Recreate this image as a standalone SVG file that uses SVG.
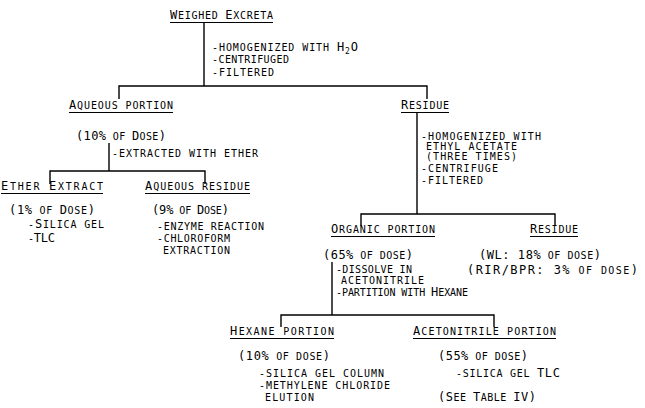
<svg xmlns="http://www.w3.org/2000/svg" width="645" height="408" viewBox="0 0 645 408">
<style>
text{font-family:"DejaVu Sans Mono","Liberation Mono",monospace;font-size:10px;fill:#000}
.b{font-size:12px}
.s{font-size:8px}
line,path{stroke:#000;stroke-width:1.4;fill:none}
.ul{stroke-width:1}
</style>
<rect width="645" height="408" fill="#fff"/>
<g id="connectors">
<path d="M204,23V86M119,99V86H427V99"/>
<path d="M109,143V171M50,184V171H205V184"/>
<path d="M417,112V214M361,226V214H555V226"/>
<path d="M332,262V315M281,327V315H494V327"/>
</g>
<g id="weighed-excreta">
<text x="170" y="19" textLength="103" lengthAdjust="spacing"><tspan class="b">W</tspan>EIGHED <tspan class="b">E</tspan>XCRETA</text>
<line class="ul" x1="170" y1="22.5" x2="273" y2="22.5"/>
</g>
<g id="step1">
<text x="212" y="51" textLength="146" lengthAdjust="spacing">-HOMOGENIZED WITH <tspan class="b">H</tspan><tspan class="s" dy="3">2</tspan><tspan class="b" dy="-3">O</tspan></text>
<text x="212" y="63" textLength="77" lengthAdjust="spacing">-CENTRIFUGED</text>
<text x="212" y="76" textLength="62" lengthAdjust="spacing">-FILTERED</text>
</g>
<g id="aqueous-portion">
<text x="69" y="109" textLength="104" lengthAdjust="spacing"><tspan class="b">A</tspan>QUEOUS PORTION</text>
<line class="ul" x1="69" y1="112.5" x2="173" y2="112.5"/>
<text x="76" y="140" textLength="90" lengthAdjust="spacing"><tspan class="b">(10%</tspan> OF <tspan class="b">D</tspan>OSE<tspan class="b">)</tspan></text>
<text x="112" y="157" textLength="146" lengthAdjust="spacing">-EXTRACTED WITH ETHER</text>
</g>
<g id="ether-extract">
<text x="1" y="190" textLength="102" lengthAdjust="spacing"><tspan class="b">E</tspan>THER <tspan class="b">E</tspan>XTRACT</text>
<line class="ul" x1="1" y1="193.5" x2="103" y2="193.5"/>
<text x="9" y="214" textLength="86" lengthAdjust="spacing"><tspan class="b">(1%</tspan> OF <tspan class="b">D</tspan>OSE<tspan class="b">)</tspan></text>
<text x="28" y="228" textLength="76" lengthAdjust="spacing">-<tspan class="b">S</tspan>ILICA GEL</text>
<text x="28" y="242" textLength="27" lengthAdjust="spacing">-<tspan class="b">TLC</tspan></text>
</g>
<g id="aqueous-residue">
<text x="145" y="190" textLength="105" lengthAdjust="spacing"><tspan class="b">A</tspan>QUEOUS RESIDUE</text>
<line class="ul" x1="145" y1="193.5" x2="250" y2="193.5"/>
<text x="152" y="214" textLength="77" lengthAdjust="spacing"><tspan class="b">(9%</tspan> OF <tspan class="b">D</tspan>OSE<tspan class="b">)</tspan></text>
<text x="157" y="230" textLength="107" lengthAdjust="spacing">-ENZYME REACTION</text>
<text x="157" y="242" textLength="73" lengthAdjust="spacing">-CHLOROFORM</text>
<text x="163" y="254" textLength="67" lengthAdjust="spacing">EXTRACTION</text>
</g>
<g id="residue">
<text x="401" y="109" textLength="48" lengthAdjust="spacing"><tspan class="b">R</tspan>ESIDUE</text>
<line class="ul" x1="401" y1="112.5" x2="449" y2="112.5"/>
<text x="421" y="140" textLength="120" lengthAdjust="spacing">-HOMOGENIZED WITH</text>
<text x="426" y="150" textLength="91" lengthAdjust="spacing">ETHYL ACETATE</text>
<text x="426" y="160" textLength="91" lengthAdjust="spacing">(THREE TIMES)</text>
<text x="421" y="172" textLength="77" lengthAdjust="spacing">-CENTRIFUGE</text>
<text x="421" y="184" textLength="62" lengthAdjust="spacing">-FILTERED</text>
</g>
<g id="organic-portion">
<text x="331" y="233" textLength="104" lengthAdjust="spacing"><tspan class="b">O</tspan>RGANIC PORTION</text>
<line class="ul" x1="331" y1="236.5" x2="435" y2="236.5"/>
<text x="323" y="259" textLength="90" lengthAdjust="spacing"><tspan class="b">(65%</tspan> OF DOSE<tspan class="b">)</tspan></text>
<text x="336" y="273" textLength="76" lengthAdjust="spacing">-DISSOLVE IN</text>
<text x="341" y="284" textLength="83" lengthAdjust="spacing">ACETONITRILE</text>
<text x="336" y="296" textLength="132" lengthAdjust="spacing">-PARTITION WITH <tspan class="b">H</tspan>EXANE</text>
</g>
<g id="residue-2">
<text x="530" y="233" textLength="48" lengthAdjust="spacing"><tspan class="b">R</tspan>ESIDUE</text>
<line class="ul" x1="530" y1="236.5" x2="578" y2="236.5"/>
<text x="479" y="259" textLength="122" lengthAdjust="spacing"><tspan class="b">(WL: 18%</tspan> OF DOSE<tspan class="b">)</tspan></text>
<text x="467" y="274" textLength="171" lengthAdjust="spacing"><tspan class="b">(RIR/BPR: 3%</tspan> OF DOSE<tspan class="b">)</tspan></text>
</g>
<g id="hexane-portion">
<text x="230" y="335" textLength="104" lengthAdjust="spacing"><tspan class="b">H</tspan>EXANE PORTION</text>
<line class="ul" x1="230" y1="338.5" x2="334" y2="338.5"/>
<text x="238" y="360" textLength="92" lengthAdjust="spacing"><tspan class="b">(10%</tspan> OF DOSE<tspan class="b">)</tspan></text>
<text x="259" y="377" textLength="125" lengthAdjust="spacing">-SILICA GEL COLUMN</text>
<text x="259" y="389" textLength="131" lengthAdjust="spacing">-METHYLENE CHLORIDE</text>
<text x="265" y="401" textLength="49" lengthAdjust="spacing">ELUTION</text>
</g>
<g id="acetonitrile-portion">
<text x="413" y="335" textLength="143" lengthAdjust="spacing"><tspan class="b">A</tspan>CETONITRILE PORTION</text>
<line class="ul" x1="413" y1="338.5" x2="556" y2="338.5"/>
<text x="438" y="360" textLength="90" lengthAdjust="spacing"><tspan class="b">(55%</tspan> OF DOSE<tspan class="b">)</tspan></text>
<text x="456" y="377" textLength="104" lengthAdjust="spacing">-SILICA GEL <tspan class="b">TLC</tspan></text>
<text x="438" y="401" textLength="98" lengthAdjust="spacing"><tspan class="b">(S</tspan>EE <tspan class="b">T</tspan>ABLE <tspan class="b">IV)</tspan></text>
</g>
</svg>
